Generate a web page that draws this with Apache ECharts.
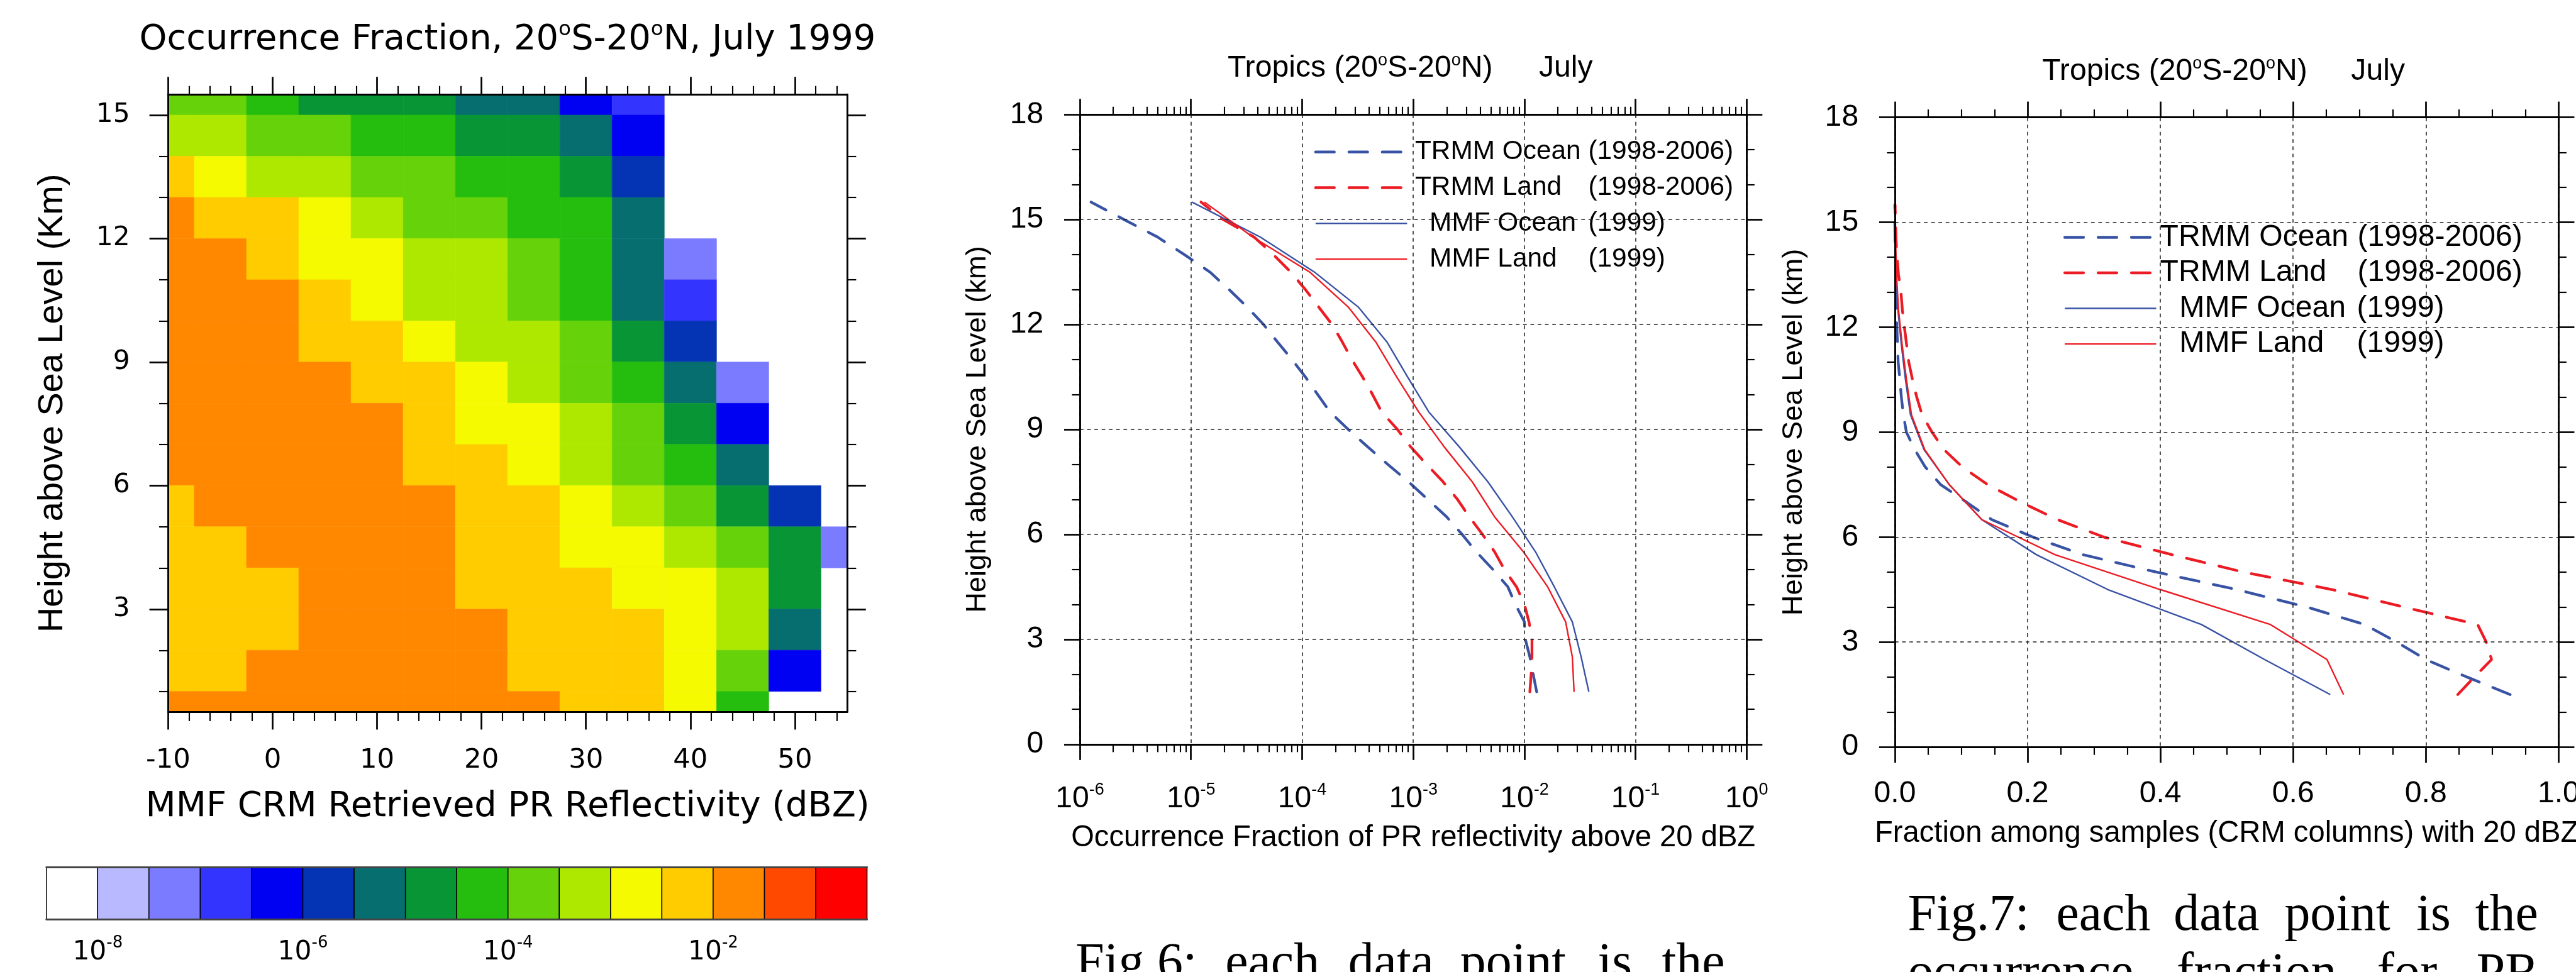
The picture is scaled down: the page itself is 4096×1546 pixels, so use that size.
<!DOCTYPE html>
<html>
<head>
<meta charset="utf-8">
<title>PR reflectivity occurrence</title>
<script src="https://cdn.jsdelivr.net/npm/echarts@6/dist/echarts.min.js"></script>
<style>
  html, body { margin: 0; padding: 0; background: #fff; }
  #chart { width: 4096px; height: 1546px; }
</style>
</head>
<body>
<div id="chart"></div>
<script>
// layout was measured on the 4251 x 1604 original, everything is drawn at 0.963
const S = 0.963;
const s = v => v * S;

// ---------- left panel: log10 occurrence fraction, MMF CRM reflectivity vs height
const dbzBins = [-10, -5, 0, 5, 10, 15, 20, 25, 30, 35, 40, 45, 50, 55];
const heightBins = [15.5, 14.5, 13.5, 12.5, 11.5, 10.5, 9.5, 8.5, 7.5, 6.5, 5.5, 4.5, 3.5, 2.5, 1.5, 0.5];
const logFraction = [
  [-3.75, -3.75, -4.25, -4.75, -4.75, -4.75, -5.25, -5.25, -6.25, -6.75, null, null, null, null],
  [-3.25, -3.25, -3.75, -3.75, -4.25, -4.25, -4.75, -4.75, -5.25, -6.25, null, null, null, null],
  [-2.25, -2.75, -3.25, -3.25, -3.75, -3.75, -4.25, -4.25, -4.75, -5.75, null, null, null, null],
  [-1.75, -2.25, -2.25, -2.75, -3.25, -3.75, -3.75, -4.25, -4.25, -5.25, null, null, null, null],
  [-1.75, -1.75, -2.25, -2.75, -2.75, -3.25, -3.25, -3.75, -4.25, -5.25, -7.25, null, null, null],
  [-1.75, -1.75, -1.75, -2.25, -2.75, -3.25, -3.25, -3.75, -4.25, -5.25, -6.75, null, null, null],
  [-1.75, -1.75, -1.75, -2.25, -2.25, -2.75, -3.25, -3.25, -3.75, -4.75, -5.75, null, null, null],
  [-1.75, -1.75, -1.75, -1.75, -2.25, -2.25, -2.75, -3.25, -3.75, -4.25, -5.25, -7.25, null, null],
  [-1.75, -1.75, -1.75, -1.75, -1.75, -2.25, -2.75, -2.75, -3.25, -3.75, -4.75, -6.25, null, null],
  [-1.75, -1.75, -1.75, -1.75, -1.75, -2.25, -2.25, -2.75, -3.25, -3.75, -4.25, -5.25, null, null],
  [-2.25, -1.75, -1.75, -1.75, -1.75, -1.75, -2.25, -2.25, -2.75, -3.25, -3.75, -4.75, -5.75, null],
  [-2.25, -2.25, -1.75, -1.75, -1.75, -1.75, -2.25, -2.25, -2.75, -2.75, -3.25, -3.75, -4.75, -7.25],
  [-2.25, -2.25, -2.25, -1.75, -1.75, -1.75, -2.25, -2.25, -2.25, -2.75, -2.75, -3.25, -4.75, null],
  [-2.25, -2.25, -2.25, -1.75, -1.75, -1.75, -1.75, -2.25, -2.25, -2.25, -2.75, -3.25, -5.25, null],
  [-2.25, -2.25, -1.75, -1.75, -1.75, -1.75, -1.75, -2.25, -2.25, -2.25, -2.75, -3.75, -6.25, null],
  [-1.75, -1.75, -1.75, -1.75, -1.75, -1.75, -1.75, -1.75, -2.25, -2.25, -2.75, -4.25, null, null]
];
const dbzStep = 5;
const heightStep = 1;

const dbzMajor = [-10, 0, 10, 20, 30, 40, 50];
const dbzMinor = [-8, -6, -4, -2, 2, 4, 6, 8, 12, 14, 16, 18, 22, 24, 26, 28, 32, 34, 36, 38, 42, 44, 46, 48, 52, 54];
const kmMajor = [3, 6, 9, 12, 15];
const kmMinor = [1, 2, 4, 5, 7, 8, 10, 11, 13, 14];

// colour classes (log10 boundaries) and their fills
const levelBounds = [-8, -7.5, -7, -6.5, -6, -5.5, -5, -4.5, -4, -3.5, -3, -2.5, -2, -1.5, -1];
const levelColors = ['#ffffff', '#b9b9ff', '#7b7bff', '#3434ff', '#0000f2', '#0433b3', '#076e70', '#079535',
  '#25be0f', '#66d20a', '#aee800', '#f5fa00', '#ffcc00', '#ff8800', '#ff4800', '#ff0000'];
const colorbarLabelAt = [1, 5, 9, 13];

// ---------- middle / right panels
const seriesNames = ['TRMM Ocean', 'TRMM Land', 'MMF Ocean', 'MMF Land'];
const seriesPeriods = ['(1998-2006)', '(1998-2006)', '(1999)', '(1999)'];
const heightsTRMM = [1.5, 2, 2.5, 3, 3.5, 4, 4.5, 5, 5.5, 6, 6.5, 7, 7.5, 8, 8.5, 9, 9.5, 10,
  10.5, 11, 11.5, 12, 12.5, 13, 13.5, 14, 14.5, 15, 15.5];
const heightsMMF = [1.5, 2.5, 3.5, 4.5, 5.5, 6.5, 7.5, 8.5, 9.5, 10.5, 11.5, 12.5, 13.5, 14.5, 15.5];

// occurrence fraction of PR reflectivity above 20 dBZ
const trmmOceanOcc = [1.29e-2, 1.20e-2, 1.12e-2, 1.02e-2, 1.00e-2, 8.3e-3, 7.1e-3, 5.2e-3, 3.7e-3, 2.75e-3,
  2.0e-3, 1.35e-3, 9.1e-4, 5.9e-4, 3.9e-4, 2.6e-4, 1.78e-4, 1.38e-4, 1.07e-4, 8.1e-5, 6.0e-5, 4.5e-5,
  3.2e-5, 2.2e-5, 1.48e-5, 8.7e-6, 5.0e-6, 2.5e-6, 1.26e-6];
const trmmLandOcc = [1.12e-2, 1.15e-2, 1.17e-2, 1.17e-2, 1.10e-2, 1.00e-2, 8.5e-3, 6.6e-3, 5.4e-3, 4.2e-3,
  3.2e-3, 2.5e-3, 1.86e-3, 1.32e-3, 9.5e-4, 7.2e-4, 5.2e-4, 4.3e-4, 3.5e-4, 2.8e-4, 2.3e-4, 1.86e-4,
  1.41e-4, 1.07e-4, 7.9e-5, 5.5e-5, 3.7e-5, 1.95e-5, 1.23e-5];
const mmfOceanOcc = [3.8e-2, 3.24e-2, 2.7e-2, 1.86e-2, 1.26e-2, 7.8e-3, 4.7e-3, 2.6e-3, 1.38e-3, 8.9e-4,
  5.8e-4, 3.2e-4, 1.29e-4, 4.2e-5, 1.02e-5];
const mmfLandOcc = [2.8e-2, 2.7e-2, 2.35e-2, 1.62e-2, 9.8e-3, 5.4e-3, 3.4e-3, 1.9e-3, 1.12e-3, 7.1e-4,
  4.6e-4, 2.6e-4, 1.17e-4, 3.6e-5, 1.32e-5];

// fraction among samples (CRM columns) with 20 dBZ
const trmmOceanFrac = [0.927, 0.862, 0.800, 0.756, 0.708, 0.621, 0.515, 0.394, 0.283, 0.208, 0.146, 0.108,
  0.069, 0.046, 0.030, 0.0174, 0.0128, 0.0098, 0.0076, 0.005, 0.004, 0.003, 0.0024, 0.002, 0.0012, 0.001,
  0.0003, 0, 0];
const trmmLandFrac = [0.848, 0.873, 0.899, 0.891, 0.878, 0.767, 0.659, 0.525, 0.417, 0.315, 0.245, 0.190,
  0.140, 0.102, 0.074, 0.056, 0.041, 0.033, 0.0266, 0.021, 0.0177, 0.0144, 0.0113, 0.0092, 0.0055, 0.0034,
  0.0018, 0.001, 0.0003];
const mmfOceanFrac = [0.656, 0.557, 0.462, 0.321, 0.213, 0.131, 0.082, 0.044, 0.0235, 0.016, 0.0098, 0.0046,
  0.002, 0.0006, 0];
const mmfLandFrac = [0.676, 0.651, 0.566, 0.400, 0.241, 0.131, 0.082, 0.045, 0.025, 0.0175, 0.011, 0.0055,
  0.0025, 0.001, 0];

// ---------- styles
const ink = '#000';
const blue = '#3953a4';
const red = '#ec1c24';
const sans = 'Liberation Sans';
const wide = 'DejaVu Sans';
const serif = 'Liberation Serif';
const frameLine = { color: ink, width: s(3) };
const majorLine = { color: ink, width: s(2.8) };
const minorLine = { color: ink, width: s(2.2) };
const gridLine = { color: '#222', width: s(1.6), type: [s(6), s(6)] };

// heatmap cells and colourbar swatches
const cellData = [];
heightBins.forEach((h, r) => dbzBins.forEach((d, c) => {
  const v = logFraction[r][c];
  if (v !== null) cellData.push([d, h, v]);
}));
const swatchData = levelColors.map((_, i) => {
  const n = levelBounds.length;
  const v = i === 0 ? levelBounds[0] - 0.25 : i === n ? levelBounds[n - 1] + 0.25
    : (levelBounds[i - 1] + levelBounds[i]) / 2;
  return [i, 0, v];
});
const pieces = levelColors.map((color, i) => {
  const p = { color };
  if (i > 0) p.gte = levelBounds[i - 1];
  if (i < levelBounds.length) p.lt = levelBounds[i];
  return p;
});

const logMinor = [];
for (let e = -6; e < 0; e++) for (let k = 2; k <= 9; k++) logMinor.push(e + Math.log10(k));

function renderCell(params, api) {
  const x = api.value(0), y = api.value(1);
  const a = api.coord([x - dbzStep / 2, y + heightStep / 2]);
  const b = api.coord([x + dbzStep / 2, y - heightStep / 2]);
  const cs = params.coordSys;
  const shape = echarts.graphic.clipRectByRect(
    { x: a[0], y: a[1], width: b[0] - a[0], height: b[1] - a[1] },
    { x: cs.x, y: cs.y, width: cs.width, height: cs.height });
  if (!shape) return;
  const color = api.visual('color');
  return { type: 'rect', shape, style: { fill: color, stroke: color, lineWidth: 0.6 } };
}

function renderSwatch(params, api) {
  const i = api.value(0);
  const a = api.coord([i, 1]);
  const b = api.coord([i + 1, 0]);
  return {
    type: 'rect',
    shape: { x: a[0], y: a[1], width: b[0] - a[0], height: b[1] - a[1] },
    style: { fill: api.visual('color'), stroke: ink, lineWidth: s(1.5) }
  };
}

// a value axis that only draws a frame side and/or ticks
function sideAxis(gridIndex, position, min, max, o) {
  return Object.assign({
    type: 'value', gridIndex, position, min, max, z: 5,
    axisLine: { show: false, onZero: false, lineStyle: frameLine },
    axisTick: { show: false },
    axisLabel: { show: false },
    splitLine: { show: false }
  }, o);
}
const ticks = (values, len, line) => ({ show: true, customValues: values, length: s(len), lineStyle: line });
const frame = { show: true, onZero: false, lineStyle: frameLine };

const supRich = (family, base, sup, lh, pad) => ({
  b: { fontFamily: family, fontSize: s(base), lineHeight: s(lh), color: ink },
  s: { fontFamily: family, fontSize: s(sup), lineHeight: s(sup), verticalAlign: 'top', padding: [s(pad), 0, 0, 0], color: ink }
});
const nameStyle = (family, size) => ({ fontFamily: family, fontSize: s(size), color: ink });

const xAxis = [
  // 0-3 heatmap
  sideAxis(0, 'bottom', -10, 55, {
    axisLine: frame, axisTick: ticks(dbzMajor, 29, majorLine),
    axisLabel: { show: true, customValues: dbzMajor, margin: s(58), fontFamily: wide, fontSize: s(45), color: ink },
    name: 'MMF CRM Retrieved PR Reflectivity (dBZ)', nameLocation: 'middle', nameGap: s(128),
    nameMoveOverlap: false, nameTextStyle: nameStyle(wide, 58)
  }),
  sideAxis(0, 'bottom', -10, 55, { axisTick: ticks(dbzMinor, 15, minorLine) }),
  sideAxis(0, 'top', -10, 55, { axisLine: frame, axisTick: ticks(dbzMajor, 29, majorLine) }),
  sideAxis(0, 'top', -10, 55, { axisTick: ticks(dbzMinor, 14, minorLine) }),
  // 4-5 colourbar
  sideAxis(1, 'bottom', 0, 16, {
    axisLine: { show: true, onZero: false, lineStyle: { color: '#444', width: s(3) } },
    axisLabel: {
      show: true, customValues: colorbarLabelAt, margin: s(26),
      formatter: v => `{b|10}{s|${levelBounds[v - 1]}}`, rich: supRich(wide, 44, 27, 58, 0)
    }
  }),
  sideAxis(1, 'top', 0, 16, { axisLine: { show: true, onZero: false, lineStyle: { color: '#444', width: s(3) } } }),
  // 6-9 middle panel
  {
    type: 'log', logBase: 10, gridIndex: 2, position: 'bottom', min: 1e-6, max: 1, z: 5,
    axisLine: frame, axisTick: { show: true, length: s(26), lineStyle: majorLine },
    axisLabel: {
      margin: s(58), formatter: v => `{b|10}{s|${Math.round(Math.log10(v))}}`,
      rich: supRich(sans, 50, 28, 64, 4)
    },
    splitLine: { show: true, lineStyle: gridLine },
    name: 'Occurrence Fraction of PR reflectivity above 20 dBZ', nameLocation: 'middle', nameGap: s(131),
    nameMoveOverlap: false, nameTextStyle: nameStyle(sans, 49)
  },
  sideAxis(2, 'bottom', -6, 0, { axisTick: ticks(logMinor, 13, minorLine) }),
  sideAxis(2, 'top', -6, 0, { interval: 1, axisLine: frame, axisTick: { show: true, length: s(26), lineStyle: majorLine } }),
  sideAxis(2, 'top', -6, 0, { axisTick: ticks(logMinor, 13, minorLine) }),
  // 10-11 right panel
  sideAxis(3, 'bottom', 0, 1, {
    interval: 0.2, axisLine: frame, axisTick: { show: true, length: s(26), lineStyle: majorLine },
    minorTick: { show: true, splitNumber: 4, length: s(13), lineStyle: minorLine },
    axisLabel: { show: true, margin: s(53), formatter: v => v.toFixed(1), fontFamily: sans, fontSize: s(50), color: ink },
    splitLine: { show: true, lineStyle: gridLine },
    name: 'Fraction among samples (CRM columns) with 20 dBZ', nameLocation: 'middle', nameGap: s(119),
    nameMoveOverlap: false, nameTextStyle: nameStyle(sans, 49)
  }),
  sideAxis(3, 'top', 0, 1, {
    interval: 0.2, axisLine: frame, axisTick: { show: true, length: s(26), lineStyle: majorLine },
    minorTick: { show: true, splitNumber: 4, length: s(13), lineStyle: minorLine }
  })
];

const kmAxis = (gridIndex, position, labelled, gap) => sideAxis(gridIndex, position, 0, 18, Object.assign({
  interval: 3, axisLine: frame, axisTick: { show: true, length: s(26), lineStyle: majorLine },
  minorTick: { show: true, splitNumber: 3, length: s(13), lineStyle: minorLine }
}, labelled ? {
  axisLabel: { show: true, margin: s(60), fontFamily: sans, fontSize: s(50), color: ink },
  splitLine: { show: true, lineStyle: gridLine },
  name: 'Height above Sea Level (km)', nameLocation: 'middle', nameGap: s(gap),
  nameMoveOverlap: false, nameTextStyle: nameStyle(sans, 47)
} : {}));

const yAxis = [
  // 0-3 heatmap
  sideAxis(0, 'left', 0.5, 15.5, {
    axisLine: frame, axisTick: ticks(kmMajor, 31, majorLine),
    axisLabel: { show: true, customValues: kmMajor, margin: s(63), fontFamily: wide, fontSize: s(44), color: ink },
    name: 'Height above Sea Level (Km)', nameLocation: 'middle', nameGap: s(162),
    nameMoveOverlap: false, nameTextStyle: nameStyle(sans, 58)
  }),
  sideAxis(0, 'left', 0.5, 15.5, { axisTick: ticks(kmMinor, 15, minorLine) }),
  sideAxis(0, 'right', 0.5, 15.5, { axisLine: frame, axisTick: ticks(kmMajor, 31, majorLine) }),
  sideAxis(0, 'right', 0.5, 15.5, { axisTick: ticks(kmMinor, 15, minorLine) }),
  // 4 colourbar
  sideAxis(1, 'left', 0, 1, {}),
  // 5-6 middle, 7-8 right
  kmAxis(2, 'left', true, 145),
  kmAxis(2, 'right', false),
  kmAxis(3, 'left', true, 143),
  kmAxis(3, 'right', false)
];

const dash = [s(31), s(24)];
const lineStyles = [
  { color: blue, width: s(4.5), type: dash, cap: 'round' },
  { color: red, width: s(4.5), type: dash, cap: 'round' },
  { color: blue, width: s(2.5), type: 'solid' },
  { color: red, width: s(2.5), type: 'solid' }
];
const profile = (i, xs, hs, xi, yi) => ({
  type: 'line', name: seriesNames[i], xAxisIndex: xi, yAxisIndex: yi,
  data: hs.map((h, k) => [xs[k], h]), symbol: 'none', z: 3,
  lineStyle: lineStyles[i], itemStyle: { color: lineStyles[i].color }
});

function panelLegend(left, top, size, gap, w) {
  return {
    orient: 'vertical', left: s(left), top: s(top), padding: 0,
    itemWidth: s(151), itemHeight: s(16), itemGap: s(gap), selectedMode: false,
    data: seriesNames, itemStyle: { opacity: 0 }, lineStyle: { width: 'inherit' },
    textStyle: {
      fontFamily: sans, fontSize: s(size), lineHeight: s(size), color: ink,
      rich: {
        tp: { width: s(w[0]) }, tn: { width: s(w[1]) },
        mp: { width: s(w[2]) }, mn: { width: s(w[3]) }, yr: {}
      }
    },
    formatter: name => {
      const i = seriesNames.indexOf(name);
      const k = i < 2 ? 't' : 'm';
      return `{${k}p| }{${k}n|${name}}{yr|${seriesPeriods[i]}}`;
    }
  };
}

// titles and the caption text that shows under the panels
const titleRich = (family, base, lh, o, pad) => ({
  b: { fontFamily: family, fontSize: s(base), lineHeight: s(lh), fill: ink },
  o: { fontFamily: family, fontSize: s(o), lineHeight: s(o), verticalAlign: 'top', padding: [s(pad), 0, 0, 0], fill: ink }
});
const text = (x, y, str, font, size, align) => ({
  type: 'text', x: s(x), y: s(y), silent: true,
  style: { text: str, fontFamily: font, fontSize: s(size), fill: ink, align: align || 'left', verticalAlign: 'middle' }
});
const richText = (x, y, str, rich, align) => ({
  type: 'text', x: s(x), y: s(y), silent: true,
  style: { text: str, rich, fill: ink, align: align || 'left', verticalAlign: 'middle' }
});

const captionWords = [
  { y: 1593, words: [['Fig.6:', 1776], ['each', 2023], ['data', 2226], ['point', 2411], ['is', 2638], ['the', 2744]] },
  { y: 1513, words: [['Fig.7:', 3150], ['each', 3395], ['data', 3589], ['point', 3772], ['is', 3990], ['the', 4087]] },
  { y: 1610, words: [['occurrence', 3150], ['fraction', 3594], ['for', 3925], ['PR', 4089]] }
];

const graphic = [
  richText(838, 66, '{b|Occurrence Fraction, 20}{o|o}{b|S-20}{o|o}{b|N, July 1999}', titleRich(wide, 58, 75, 34, 4), 'center'),
  richText(2027, 113, '{b|Tropics (20}{o|o}{b|S-20}{o|o}{b|N)}', titleRich(sans, 50, 66, 28, 6)),
  text(2541, 113, 'July', sans, 50),
  richText(3372, 118, '{b|Tropics (20}{o|o}{b|S-20}{o|o}{b|N)}', titleRich(sans, 50, 66, 28, 6)),
  text(3882, 118, 'July', sans, 50)
];
captionWords.forEach(line => line.words.forEach(([w, x]) => graphic.push(text(x, line.y, w, serif, 85))));

const chart = echarts.init(document.getElementById('chart'), null, { renderer: 'canvas' });

chart.setOption({
  animation: false,
  backgroundColor: '#fff',
  textStyle: { fontFamily: sans },
  grid: [
    { left: s(277.7), top: s(156), width: s(1121), height: s(1020), outerBoundsMode: 'none' },
    { left: s(76.6), top: s(1432), width: s(1355), height: s(86), outerBoundsMode: 'none' },
    { left: s(1783), top: s(189.3), width: s(1101), height: s(1040), outerBoundsMode: 'none' },
    { left: s(3128.7), top: s(193.8), width: s(1096), height: s(1040), outerBoundsMode: 'none' }
  ],
  xAxis,
  yAxis,
  visualMap: { type: 'piecewise', show: false, dimension: 2, seriesIndex: [0, 1], pieces },
  legend: [
    panelLegend(2170, 229, 44, 15, [8, 286, 32, 262]),
    panelLegend(3407, 367, 50, 8.7, [1, 326, 33, 293])
  ],
  series: [
    { type: 'custom', xAxisIndex: 0, yAxisIndex: 0, renderItem: renderCell, data: cellData, z: 1 },
    { type: 'custom', xAxisIndex: 4, yAxisIndex: 4, renderItem: renderSwatch, data: swatchData, z: 1 },
    profile(0, trmmOceanOcc, heightsTRMM, 6, 5),
    profile(1, trmmLandOcc, heightsTRMM, 6, 5),
    profile(2, mmfOceanOcc, heightsMMF, 6, 5),
    profile(3, mmfLandOcc, heightsMMF, 6, 5),
    profile(0, trmmOceanFrac, heightsTRMM, 10, 7),
    profile(1, trmmLandFrac, heightsTRMM, 10, 7),
    profile(2, mmfOceanFrac, heightsMMF, 10, 7),
    profile(3, mmfLandFrac, heightsMMF, 10, 7)
  ],
  graphic
});
</script>
</body>
</html>
